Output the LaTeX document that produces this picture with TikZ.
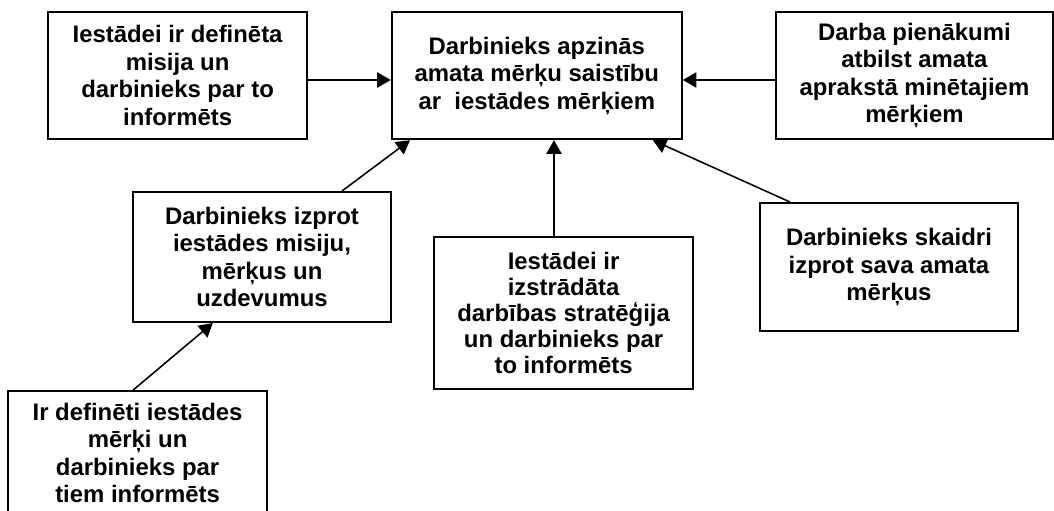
\documentclass[tikz,border=0pt]{standalone}
\usepackage{fontspec}
\setmainfont{Liberation Sans}
\usepackage{xcolor}
\usepackage{tikz}
\usetikzlibrary{arrows.meta,positioning}
\definecolor{mkInk}{HTML}{000000}
\tikzset{
  mk diagram/.style={font=\bfseries\fontsize{17}{19.6}\selectfont, text=mkInk},
  mk box/.style={draw=mkInk, fill=white, line width=1.4pt,
    align=center, inner sep=0pt, minimum width=6.48cm, minimum height=3.18cm},
  mk arrow/.style={-{Triangle[length=3.4mm,width=3.8mm]}, draw=mkInk, line width=1.1pt}
}

\begin{document}
\begin{tikzpicture}[mk diagram]
\useasboundingbox (0,0) rectangle (26.35,12.75);
% top row
\node[mk box] (misija) at (4.44,10.86) {Iestādei ir definēta\\misija un\\darbinieks par to\\informēts};
\node[mk box, minimum width=7.25cm] (apzinas) at (13.42,10.86) {Darbinieks apzinās\\amata mērķu saistību\\ar~ iestādes mērķiem};
\node[mk box, minimum width=6.93cm] (pienakumi) at (22.86,10.86) {Darba pienākumi\\atbilst amata\\aprakstā minētajiem\\mērķiem};
% lower boxes
\node[mk box, minimum width=6.45cm, minimum height=3.25cm] (izprot) at (6.55,6.325) {Darbinieks izprot\\iestādes misiju,\\mērķus un\\uzdevumus};
\node[mk box, minimum height=3.8cm, font=\bfseries\fontsize{17}{18.4}\selectfont] (strategija) at (14.09,4.925) {Iestādei ir\\izstrādāta\\darbības stratēģija\\un darbinieks par\\to informēts};
\node[mk box, minimum width=6.45cm, minimum height=3.2cm] (skaidri) at (22.225,6.075) {Darbinieks skaidri\\izprot sava amata\\mērķus};
\node[mk box, minimum height=3.1cm] (merki) at (3.44,1.425) {Ir definēti iestādes\\mērķi un\\darbinieks par\\tiem informēts};
% connectors
\draw[mk arrow] ([yshift=-0.11cm]misija.east) -- ([yshift=-0.11cm]apzinas.west);
\draw[mk arrow] ([yshift=-0.11cm]pienakumi.west) -- ([yshift=-0.11cm]apzinas.east);
\draw[mk arrow] ([xshift=2cm]izprot.north) -- ([xshift=-3.17cm]apzinas.south);
\draw[mk arrow] ([xshift=-0.24cm]strategija.north) -- ([xshift=-0.24cm]strategija.north |- apzinas.south);
\draw[mk arrow] ([xshift=-2.475cm]skaidri.north) -- ([xshift=2.9cm]apzinas.south);
\draw[mk arrow] ([xshift=-0.11cm]merki.north) -- ([xshift=-1.23cm]izprot.south);
\end{tikzpicture}
\end{document}
